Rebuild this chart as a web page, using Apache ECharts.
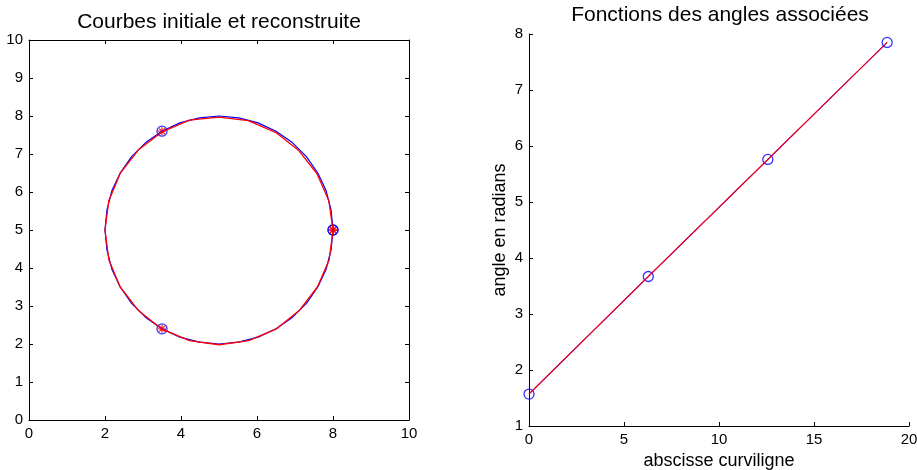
<!DOCTYPE html>
<html>
<head>
<meta charset="utf-8">
<script src="https://cdn.jsdelivr.net/npm/echarts@6/dist/echarts.min.js"></script>
<style>
html, body { margin: 0; padding: 0; background: #fff; }
#main { width: 917px; height: 470px; }
</style>
</head>
<body>
<div id="main"></div>
<script>
// courbe initiale (cercle bleu)
var circleX = [8.00, 7.95, 7.82, 7.60, 7.30, 6.93, 6.50, 6.03, 5.52, 5.00, 4.48, 3.97, 3.50, 3.07, 2.70, 2.40, 2.18, 2.05, 2.00,
               2.05, 2.18, 2.40, 2.70, 3.07, 3.50, 3.97, 4.48, 5.00, 5.52, 6.03, 6.50, 6.93, 7.30, 7.60, 7.82, 7.95, 8.00];
var circleY = [5.00, 5.52, 6.03, 6.50, 6.93, 7.30, 7.60, 7.82, 7.95, 8.00, 7.95, 7.82, 7.60, 7.30, 6.93, 6.50, 6.03, 5.52, 5.00,
               4.48, 3.97, 3.50, 3.07, 2.70, 2.40, 2.18, 2.05, 2.00, 2.05, 2.18, 2.40, 2.70, 3.07, 3.50, 3.97, 4.48, 5.00];
// courbe reconstruite (rouge)
var reconX = [8.00, 7.89, 7.58, 7.10, 6.49, 5.77, 5.00, 4.22, 3.50, 2.88, 2.40, 2.10, 2.00,
              2.10, 2.40, 2.88, 3.50, 4.22, 5.00, 5.78, 6.50, 7.11, 7.59, 7.90, 8.00];
var reconY = [5.00, 5.77, 6.48, 7.09, 7.57, 7.88, 7.97, 7.89, 7.58, 7.11, 6.49, 5.77, 5.00,
              4.22, 3.50, 2.88, 2.39, 2.09, 1.98, 2.09, 2.39, 2.88, 3.50, 4.22, 5.00];
// points de controle
var knotX = [8.0, 3.5, 3.5, 8.0];
var knotY = [5.0, 7.6, 2.4, 5.0];
// angles
var abscisse = [0, 6.28, 12.57, 18.85];
var angles = [1.57, 3.67, 5.76, 7.85];

function zip(a, b) {
	return a.map(function(v, i) { return [v, b[i]]; });
}

var police = 'Liberation Sans, Arial, sans-serif';
var asterisk = 'path://M0,-10L0,10M-10,0L10,0M-7.07,-7.07L7.07,7.07M-7.07,7.07L7.07,-7.07';

function axe(pos, grid, min, max, interval, labels) {
	return {
		type: 'value', gridIndex: grid, position: pos, min: min, max: max, interval: interval,
		axisLine: { show: true, onZero: false, lineStyle: { color: '#000', width: 1 } },
		axisTick: { show: true, inside: true, length: 4, lineStyle: { color: '#000' } },
		axisLabel: { show: labels, color: '#000', fontFamily: police, fontSize: 15, margin: 6 },
		splitLine: { show: false }
	};
}

var chart = echarts.init(document.getElementById('main'));

var xAxes = [axe('bottom', 0, 0, 10, 2, true), axe('top', 0, 0, 10, 2, false), axe('bottom', 1, 0, 20, 5, true)];
var yAxes = [axe('left', 0, 0, 10, 1, true), axe('right', 0, 0, 10, 1, false), axe('left', 1, 1, 8, 1, true)];
xAxes[2].name = 'abscisse curviligne';
xAxes[2].nameLocation = 'middle';
xAxes[2].nameGap = 26;
xAxes[2].nameTextStyle = { color: '#000', fontFamily: police, fontSize: 18 };
yAxes[2].name = 'angle en radians';
yAxes[2].nameLocation = 'middle';
yAxes[2].nameGap = 20;
yAxes[2].nameTextStyle = { color: '#000', fontFamily: police, fontSize: 18 };

var option = {
	animation: false,
	backgroundColor: '#fff',
	title: [
		{ text: 'Courbes initiale et reconstruite', left: 219, top: 12, textAlign: 'center', padding: 0,
		  textStyle: { color: '#000', fontFamily: police, fontSize: 21, fontWeight: 'normal' } },
		{ text: 'Fonctions des angles associées', left: 720, top: 5, textAlign: 'center', padding: 0,
		  textStyle: { color: '#000', fontFamily: police, fontSize: 21, fontWeight: 'normal' } }
	],
	grid: [
		{ left: 29, top: 40, width: 380, height: 380, show: false, outerBoundsMode: 'none' },
		{ left: 529, top: 34, width: 380, height: 392, show: false, outerBoundsMode: 'none' }
	],
	xAxis: xAxes,
	yAxis: yAxes,
	series: [
		{ type: 'line', xAxisIndex: 0, yAxisIndex: 0, data: zip(circleX, circleY), symbol: 'none',
		  lineStyle: { color: '#0000ff', width: 1.2 } },
		{ type: 'scatter', xAxisIndex: 0, yAxisIndex: 0, data: zip(knotX, knotY), symbol: 'circle', symbolSize: 10,
		  itemStyle: { color: 'transparent', borderColor: '#0000ff', borderWidth: 1.3 } },
		{ type: 'line', xAxisIndex: 0, yAxisIndex: 0, data: zip(reconX, reconY), symbol: 'none',
		  lineStyle: { color: '#ff0000', width: 1.3 } },
		{ type: 'scatter', xAxisIndex: 0, yAxisIndex: 0, data: zip(knotX, knotY), symbol: asterisk, symbolSize: 8,
		  itemStyle: { color: 'transparent', borderColor: '#ff0000', borderWidth: 1.3 } },
		{ type: 'line', xAxisIndex: 2, yAxisIndex: 2, data: zip(abscisse, angles), symbol: 'none',
		  lineStyle: { color: '#0000ff', width: 1 } },
		{ type: 'scatter', xAxisIndex: 2, yAxisIndex: 2, data: zip(abscisse, angles), symbol: 'circle', symbolSize: 10,
		  itemStyle: { color: 'transparent', borderColor: '#0000ff', borderWidth: 1.3 } },
		{ type: 'line', xAxisIndex: 2, yAxisIndex: 2, data: zip(abscisse, angles), symbol: 'none',
		  lineStyle: { color: '#e0002a', width: 1.3 } }
	]
};
chart.setOption(option);
</script>
</body>
</html>
